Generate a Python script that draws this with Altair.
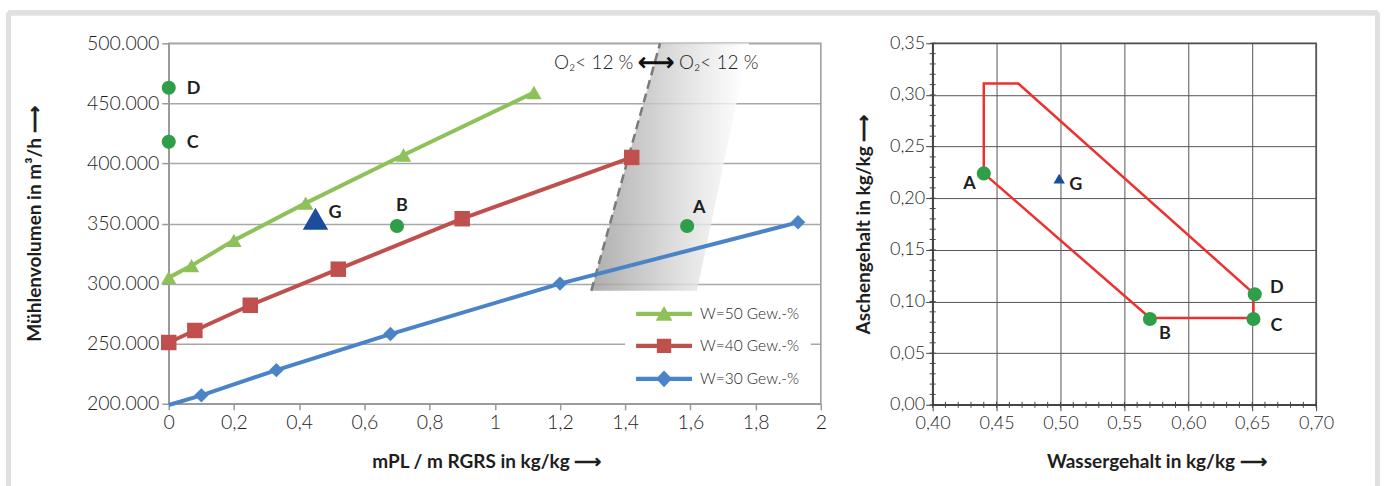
import altair as alt
import pandas as pd

FONT = "Lato"

# ---------------- left chart data ----------------
series_names = ["W=50 Gew.-%", "W=40 Gew.-%", "W=30 Gew.-%"]
w50_x = [0.0, 0.07, 0.20, 0.42, 0.72, 1.12]
w50_y = [305000, 315000, 336000, 367000, 407000, 459000]
w40_x = [0.0, 0.08, 0.25, 0.52, 0.90, 1.42]
w40_y = [251000, 261000, 282000, 312000, 354000, 405000]
w30_x = [0.0, 0.10, 0.33, 0.68, 1.20, 1.93]
w30_y = [199000, 207000, 228000, 258000, 300000, 351000]
w30_marker = [False, True, True, True, True, True]

pt_labels = ["D", "C", "B", "A"]
pt_x = [0.0, 0.0, 0.70, 1.59]
pt_y = [463000, 418000, 348000, 348000]
g_label = ["G"]
g_x = [0.45]
g_y = [354000]

band_y = [294000, 500000]
band_x = [1.296, 1.507]
band_x2 = [1.62, 1.78]

o2_left = ["O₂< 12 %"]
o2_arrow = ["⟷"]
o2_right = ["O₂< 12 %"]
o2_x = [1.425, 1.495, 1.565]
o2_y = [483500]

left_x_ticks = [0, 0.2, 0.4, 0.6, 0.8, 1, 1.2, 1.4, 1.6, 1.8, 2]
left_y_ticks = [200000, 250000, 300000, 350000, 400000, 450000, 500000]

# ---------------- right chart data ----------------
poly_x = [0.440, 0.440, 0.467, 0.651, 0.651, 0.570, 0.440]
poly_y = [0.224, 0.311, 0.311, 0.108, 0.084, 0.084, 0.224]
r_pt_labels = ["A", "B", "C", "D"]
r_pt_x = [0.440, 0.570, 0.651, 0.652]
r_pt_y = [0.224, 0.083, 0.083, 0.107]
r_g_x = [0.499]
r_g_y = [0.219]
right_x_ticks = [0.40, 0.45, 0.50, 0.55, 0.60, 0.65, 0.70]
right_y_ticks = [0.00, 0.05, 0.10, 0.15, 0.20, 0.25, 0.30, 0.35]
right_x_minor = [0.40, 0.41, 0.42, 0.43, 0.44, 0.45, 0.46, 0.47, 0.48, 0.49, 0.50,
                 0.51, 0.52, 0.53, 0.54, 0.55, 0.56, 0.57, 0.58, 0.59, 0.60,
                 0.61, 0.62, 0.63, 0.64, 0.65, 0.66, 0.67, 0.68, 0.69, 0.70]
right_y_minor = [0.00, 0.01, 0.02, 0.03, 0.04, 0.05, 0.06, 0.07, 0.08, 0.09, 0.10,
                 0.11, 0.12, 0.13, 0.14, 0.15, 0.16, 0.17, 0.18, 0.19, 0.20,
                 0.21, 0.22, 0.23, 0.24, 0.25, 0.26, 0.27, 0.28, 0.29, 0.30,
                 0.31, 0.32, 0.33, 0.34, 0.35]

# ---------------- colours ----------------
green_line = "#8fc15b"
red_line = "#c0504d"
blue_line = "#4a84c6"
pt_green = "#2f9e48"
g_blue = "#1c4c9c"
poly_red = "#ee3130"
frame_grey = "#dfe0e2"
text_col = "#1e1e1e"

# ---------------- left chart ----------------
df_series = pd.DataFrame({
    "series": [series_names[0]] * 6 + [series_names[1]] * 6 + [series_names[2]] * 6,
    "x": w50_x + w40_x + w30_x,
    "y": w50_y + w40_y + w30_y,
    "marker": [True] * 12 + w30_marker,
    "order": list(range(6)) * 3,
})
df_pts = pd.DataFrame({"label": pt_labels, "x": pt_x, "y": pt_y})
df_g = pd.DataFrame({"label": g_label, "x": g_x, "y": g_y})
df_band = pd.DataFrame({"y": band_y, "x": band_x, "x2": band_x2})

xs = alt.Scale(domain=[0, 2], nice=False)
ys = alt.Scale(domain=[200000, 500000], nice=False, zero=False)
cs = alt.Scale(domain=series_names, range=[green_line, red_line, blue_line])

x_axis = alt.Axis(
    values=left_x_ticks, labelFlush=False,
    labelExpr="replace(format(datum.value, '~g'), '.', ',')",
    grid=False, tickSize=6, labelPadding=4, domainColor="#9a9a9a", tickColor="#9a9a9a",
    domainWidth=1.5, tickWidth=1.5,
    labelFont=FONT, labelFontSize=19.5, labelFontWeight=300, labelColor=text_col,
    title="mPL / m RGRS in kg/kg     ⟶", titleFont=FONT, titleFontSize=19,
    titleFontWeight="bold", titleColor=text_col, titlePadding=20, titleX=318,
)
y_axis = alt.Axis(
    values=left_y_ticks, labelFlush=False,
    labelExpr="replace(format(datum.value, ',d'), ',', '.')",
    grid=True, gridColor="#a8a8a8", gridWidth=1.5, tickSize=7, labelPadding=3,
    domainColor="#9a9a9a", tickColor="#9a9a9a", domainWidth=1.5, tickWidth=1.5,
    labelFont=FONT, labelFontSize=19.5, labelFontWeight=300, labelColor=text_col,
    title="Mühlenvolumen in m³/h     ⟶", titleFont=FONT, titleFontSize=19,
    titleFontWeight="bold", titleColor=text_col, titlePadding=42,
)

gradient = alt.Gradient(
    gradient="linear",
    stops=[alt.GradientStop(color="#9c9c9c", offset=0),
           alt.GradientStop(color="#d8d8d8", offset=0.55),
           alt.GradientStop(color="#ffffff", offset=0.97)],
    x1=0, x2=1, y1=0, y2=0,
)

band = alt.Chart(df_band).mark_area(orient="horizontal", color=gradient, opacity=0.82).encode(
    y=alt.Y("y:Q", scale=ys, axis=y_axis), x=alt.X("x:Q", scale=xs, axis=x_axis), x2="x2:Q"
)
dash = alt.Chart(df_band).mark_line(color="#7a7a7a", strokeDash=[9, 5], strokeWidth=2.5).encode(
    x=alt.X("x:Q", scale=xs), y=alt.Y("y:Q", scale=ys)
)

line_part = "M-1,-0.27L6,-0.27L6,0.27L-1,0.27Z "
legend_paths = [
    line_part + "M1.45,0.85L2.5,-1L3.55,0.85Z",
    line_part + "M1.6,-0.9L3.4,-0.9L3.4,0.9L1.6,0.9Z",
    line_part + "M2.5,-1.05L3.5,0L2.5,1.05L1.5,0Z",
]
leg = alt.Legend(
    title=None, orient="none", legendX=457, legendY=252, padding=11, fillColor="white",
    labelFont=FONT, labelFontSize=15.5, labelFontWeight=300, labelColor=text_col,
    symbolSize=256, symbolStrokeWidth=0, labelOffset=48, rowPadding=15,
)

lines = alt.Chart(df_series).mark_line(strokeWidth=4).encode(
    x=alt.X("x:Q", scale=xs), y=alt.Y("y:Q", scale=ys),
    color=alt.Color("series:N", scale=cs, legend=leg), order="order:Q",
)

marker_layers = []
for name, shp, sz in zip(series_names, ["triangle-up", "square", "diamond"], [240, 240, 210]):
    marker_layers.append(
        alt.Chart(df_series)
        .transform_filter(f"datum.series == '{name}' && datum.marker")
        .mark_point(shape=shp, filled=True, size=sz, opacity=1)
        .encode(x=alt.X("x:Q", scale=xs), y=alt.Y("y:Q", scale=ys),
                color=alt.Color("series:N", scale=cs, legend=leg))
    )

legend_layer = alt.Chart(df_series).mark_point(filled=True, clip=True, yOffset=3000).encode(
    x=alt.X("x:Q", scale=xs), y=alt.Y("y:Q", scale=ys),
    color=alt.Color("series:N", scale=cs, legend=leg),
    shape=alt.Shape("series:N", scale=alt.Scale(domain=series_names, range=legend_paths), legend=leg),
)

pts = alt.Chart(df_pts).mark_circle(size=200, color=pt_green, opacity=1).encode(
    x=alt.X("x:Q", scale=xs), y=alt.Y("y:Q", scale=ys)
)
gpt = alt.Chart(df_g).mark_point(shape="triangle-up", filled=True, size=650, color=g_blue, opacity=1).encode(
    x=alt.X("x:Q", scale=xs), y=alt.Y("y:Q", scale=ys)
)


def text_layer(df, labels, dx, dy, align, size=18):
    return alt.Chart(df).transform_filter(
        alt.FieldOneOfPredicate(field="label", oneOf=labels)
    ).mark_text(dx=dx, dy=dy, align=align, font=FONT, fontSize=size, fontWeight="bold",
                color=text_col, baseline="middle").encode(
        x=alt.X("x:Q", scale=xs), y=alt.Y("y:Q", scale=ys), text="label:N"
    )


lbl_dc = text_layer(df_pts, ["D", "C"], 18, 1, "left")
lbl_b = text_layer(df_pts, ["B"], 5, -20, "center")
lbl_a = text_layer(df_pts, ["A"], 12, -18, "center")
lbl_g = text_layer(df_g, ["G"], 13, -6, "left")

df_o2l = pd.DataFrame({"t": o2_left, "x": [o2_x[0]], "y": o2_y})
df_o2a = pd.DataFrame({"t": o2_arrow, "x": [o2_x[1]], "y": o2_y})
df_o2r = pd.DataFrame({"t": o2_right, "x": [o2_x[2]], "y": o2_y})
o2l = alt.Chart(df_o2l).mark_text(align="right", font=FONT, fontSize=19, fontWeight=300, color=text_col).encode(
    x=alt.X("x:Q", scale=xs), y=alt.Y("y:Q", scale=ys), text="t:N")
o2a = alt.Chart(df_o2a).mark_text(align="center", font="DejaVu Sans", fontSize=26, fontWeight="bold", color="#111").encode(
    x=alt.X("x:Q", scale=xs), y=alt.Y("y:Q", scale=ys), text="t:N")
o2r = alt.Chart(df_o2r).mark_text(align="left", font=FONT, fontSize=19, fontWeight=300, color=text_col).encode(
    x=alt.X("x:Q", scale=xs), y=alt.Y("y:Q", scale=ys), text="t:N")

# frame (decorative border around the figure), in pixels relative to left plot
frame_top = alt.Chart(df_pts).mark_rule(color=frame_grey, strokeWidth=5).encode(
    x=alt.value(-160.5), x2=alt.value(1210.5), y=alt.value(-30.5))
frame_left = alt.Chart(df_pts).mark_rule(color=frame_grey, strokeWidth=5).encode(
    x=alt.value(-160.5), y=alt.value(-30.5), y2=alt.value(450))
frame_right = alt.Chart(df_pts).mark_rule(color=frame_grey, strokeWidth=5).encode(
    x=alt.value(1210.5), y=alt.value(-30.5), y2=alt.value(450))

left = alt.layer(
    band, dash, lines, *marker_layers, legend_layer, pts, gpt,
    lbl_dc, lbl_b, lbl_a, lbl_g, o2l, o2a, o2r, frame_top, frame_left, frame_right,
).properties(width=653, height=361, view=alt.ViewBackground(stroke="#9a9a9a", strokeWidth=1.5))

# ---------------- right chart ----------------
RW, RH = 384, 362
df_poly = pd.DataFrame({"x": poly_x, "y": poly_y, "order": list(range(len(poly_x)))})
df_rpts = pd.DataFrame({"label": r_pt_labels, "x": r_pt_x, "y": r_pt_y})
df_rg = pd.DataFrame({"label": ["G"], "x": r_g_x, "y": r_g_y})
df_xminor = pd.DataFrame({"v": right_x_minor})
df_yminor = pd.DataFrame({"v": right_y_minor})

rxs = alt.Scale(domain=[0.40, 0.70], nice=False, zero=False)
rys = alt.Scale(domain=[0.0, 0.35], nice=False)

rx_axis = alt.Axis(
    values=right_x_ticks, labelFlush=False,
    labelExpr="replace(format(datum.value, '.2f'), '.', ',')",
    grid=True, gridColor="#555", gridWidth=1, tickSize=6, labelPadding=4,
    domainColor="#444", tickColor="#444", domainWidth=1.5,
    labelFont=FONT, labelFontSize=18, labelFontWeight=300, labelColor=text_col,
    title="Wassergehalt  in kg/kg     ⟶", titleFont=FONT, titleFontSize=19,
    titleFontWeight="bold", titleColor=text_col, titlePadding=20, titleX=224,
)
ry_axis = alt.Axis(
    values=right_y_ticks, labelFlush=False,
    labelExpr="replace(format(datum.value, '.2f'), '.', ',')",
    grid=True, gridColor="#555", gridWidth=1, tickSize=7, labelPadding=1,
    domainColor="#444", tickColor="#444", domainWidth=1.5,
    labelFont=FONT, labelFontSize=18, labelFontWeight=300, labelColor=text_col,
    title="Aschengehalt in kg/kg     ⟶", titleFont=FONT, titleFontSize=19,
    titleFontWeight="bold", titleColor=text_col, titlePadding=16,
)

poly = alt.Chart(df_poly).mark_line(color=poly_red, strokeWidth=2.5).encode(
    x=alt.X("x:Q", scale=rxs, axis=rx_axis), y=alt.Y("y:Q", scale=rys, axis=ry_axis), order="order:Q")
xminor = alt.Chart(df_xminor).mark_rule(color="#444", strokeWidth=1).encode(
    x=alt.X("v:Q", scale=rxs), y=alt.value(RH - 3), y2=alt.value(RH + 3))
yminor = alt.Chart(df_yminor).mark_rule(color="#444", strokeWidth=1).encode(
    y=alt.Y("v:Q", scale=rys), x=alt.value(-3), x2=alt.value(3))
rpts = alt.Chart(df_rpts).mark_circle(size=200, color=pt_green, opacity=1).encode(
    x=alt.X("x:Q", scale=rxs), y=alt.Y("y:Q", scale=rys))
rg = alt.Chart(df_rg).mark_point(shape="triangle-up", filled=True, size=130, color=g_blue, opacity=1).encode(
    x=alt.X("x:Q", scale=rxs), y=alt.Y("y:Q", scale=rys))


def rtext(df, labels, dx, dy, align):
    return alt.Chart(df).transform_filter(
        alt.FieldOneOfPredicate(field="label", oneOf=labels)
    ).mark_text(dx=dx, dy=dy, align=align, font=FONT, fontSize=18, fontWeight="bold",
                color=text_col, baseline="middle").encode(
        x=alt.X("x:Q", scale=rxs), y=alt.Y("y:Q", scale=rys), text="label:N")


r_lbls = [
    rtext(df_rpts, ["A"], -8, 11, "right"),
    rtext(df_rpts, ["B"], 15, 15, "center"),
    rtext(df_rpts, ["C"], 23, 7, "center"),
    rtext(df_rpts, ["D"], 22, -6, "center"),
    rtext(df_rg, ["G"], 10, 6, "left"),
]

right = alt.layer(poly, xminor, yminor, rpts, rg, *r_lbls).properties(
    width=RW, height=RH, view=alt.ViewBackground(stroke="#444", strokeWidth=1.5))

chart = alt.hconcat(left, right, spacing=112, bounds="flush").properties(
    padding={"left": 5, "top": 9, "right": 4, "bottom": 0},
    background="white",
).configure_view(stroke=None)

chart.save("out.html", embed_options={"renderer": "svg", "actions": False})
